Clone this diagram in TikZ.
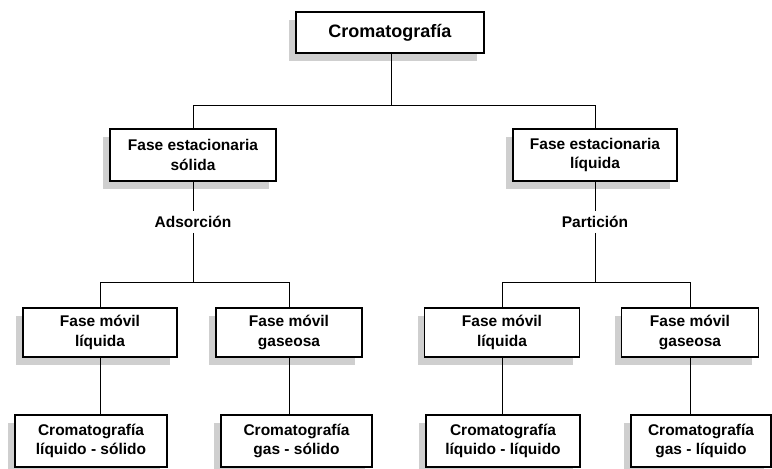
\documentclass[tikz,border=0pt]{standalone}
\usepackage{fontspec}
\setmainfont{Liberation Sans}
\usetikzlibrary{positioning,shadows}
\definecolor{boxshade}{HTML}{CFCFCF}

\begin{document}
\begin{tikzpicture}[x=1pt,y=-1pt,
  box/.style={draw=black,fill=white,line width=1.2pt,align=center,inner sep=2pt,
              font=\fontsize{15.5}{19.5}\selectfont\bfseries,
              drop shadow={shadow xshift=-7pt,shadow yshift=-8pt,fill=boxshade,opacity=1}},
  lvla/.style={box,minimum height=41pt},
  lvlb/.style={box,minimum height=52pt},
  lvlc/.style={box,minimum height=49pt},
  lvld/.style={box,minimum height=52pt},
  kind/.style={font=\fontsize{15.5}{19.5}\selectfont\bfseries,inner sep=5pt},
  link/.style={black,line width=1pt}]
\useasboundingbox (0,0) rectangle (772,469);

% ---------------- root ------------------------------------------------------
\node[lvla,minimum width=188pt,font=\fontsize{18}{22}\selectfont\bfseries] (crom) at (390,32.5)
  {Cromatograf\'ia};

% ---------------- stationary phases -----------------------------------------
\node[lvlb,minimum width=166pt] (fes) at (193,155) {Fase estacionaria\\s\'olida};
\node[lvlb,minimum width=164pt] (fel) at (595,155) {Fase estacionaria\\l\'iquida};

\coordinate (busA) at (391,105);
\draw[link] (crom.south -| busA) -- (busA);
\draw[link] (busA) -| (fes.north);
\draw[link] (busA) -| (fel.north);

% ---------------- mechanism -------------------------------------------------
\node[kind] (ads) at (193,222) {Adsorci\'on};
\node[kind] (par) at (595,222) {Partici\'on};
\draw[link] (fes.south) -- (ads.north);
\draw[link] (fel.south) -- (par.north);

% ---------------- mobile phases ---------------------------------------------
\node[lvlc,minimum width=154pt] (mls) at (100,332.5) {Fase m\'ovil\\l\'iquida};
\node[lvlc,minimum width=146pt] (mgs) at (289,332.5) {Fase m\'ovil\\gaseosa};
\node[lvlc,minimum width=155pt] (mll) at (502,332.5) {Fase m\'ovil\\l\'iquida};
\node[lvlc,minimum width=137pt] (mgl) at (690,332.5) {Fase m\'ovil\\gaseosa};

\coordinate (busB) at (193,282);
\coordinate (busC) at (595,282);
\draw[link] (ads.south) -- (busB);
\draw[link] (busB) -| (mls.north);
\draw[link] (busB) -| (mgs.north);
\draw[link] (par.south) -- (busC);
\draw[link] (busC) -| (mll.north);
\draw[link] (busC) -| (mgl.north);

% ---------------- resulting techniques --------------------------------------
\node[lvld,minimum width=152pt] (cls) at (91,441)    {Cromatograf\'ia\\l\'iquido - s\'olido};
\node[lvld,minimum width=151pt] (cgs) at (296.5,441) {Cromatograf\'ia\\gas - s\'olido};
\node[lvld,minimum width=154pt] (cll) at (503,441)   {Cromatograf\'ia\\l\'iquido - l\'iquido};
\node[lvld,minimum width=140pt] (cgl) at (701,441)   {Cromatograf\'ia\\gas - l\'iquido};

\draw[link] (mls.south) -- (mls.south |- cls.north);
\draw[link] (mgs.south) -- (mgs.south |- cgs.north);
\draw[link] (mll.south) -- (mll.south |- cll.north);
\draw[link] (mgl.south) -- (mgl.south |- cgl.north);

\end{tikzpicture}
\end{document}
